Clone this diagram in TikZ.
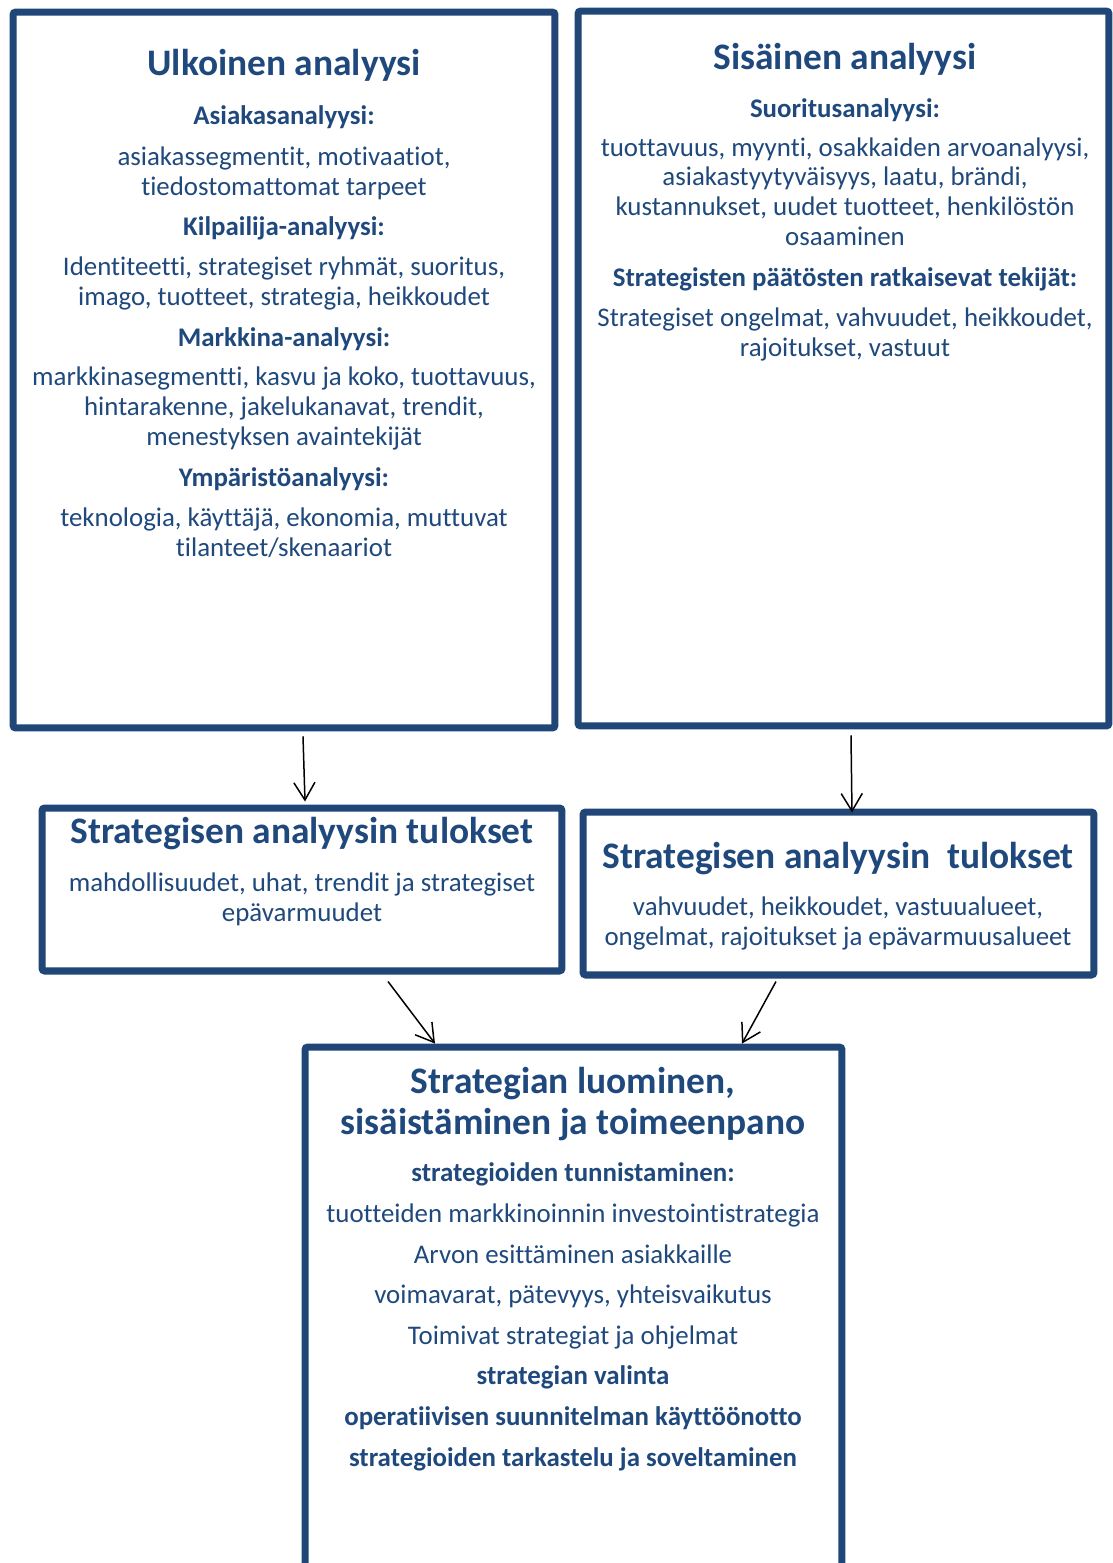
\documentclass[tikz,border=0pt]{standalone}
\usepackage{fontspec}
\setmainfont{Carlito}[Ligatures=NoCommon]
\usetikzlibrary{arrows.meta,shadows,calc}
\definecolor{boxblue}{HTML}{1F4677}
\definecolor{textblue}{HTML}{1F497D}

\begin{document}
\begin{tikzpicture}[x=0.02cm,y=-0.02cm,
    box/.style={draw=boxblue,line width=4pt,fill=white,rounded corners=1.5pt,inner sep=0pt,
      drop shadow={shadow xshift=1.2pt,shadow yshift=-1.2pt,opacity=0.3}},
    ttl/.style={anchor=base,text=textblue,align=center,
      font=\fontsize{21.3}{23.3}\selectfont\bfseries},
    sub/.style={anchor=base,text=textblue,font=\fontsize{15.3}{16.8}\selectfont\bfseries},
    txt/.style={anchor=base,text=textblue,align=center,font=\fontsize{15.3}{16.8}\selectfont},
    arr/.style={-{Straight Barb[length=10pt,width=12pt]},line width=0.85pt},]

    \useasboundingbox (0,0) rectangle (1113,1563);

    \node[box,minimum width=10.84cm,minimum height=14.32cm] (ulk) at (284,370) {};
    \node[box,minimum width=10.62cm,minimum height=14.3cm] (sis) at (843.5,368.5) {};
    \node[box,minimum width=10.4cm,minimum height=3.26cm] (tulA) at (302,889.5) {};
    \node[box,minimum width=10.22cm,minimum height=3.26cm] (tulB) at (838.5,893.5) {};
    \node[box,minimum width=10.74cm,minimum height=11.06cm] (luo) at (573.5,1323.5) {};

    \draw[arr] ($(ulk.south)+(19,5)$) -- ($(tulA.north)+(3,-3)$);
    \draw[arr] ($(sis.south)+(7.5,6)$) -- ($(tulB.north)+(13.5,4)$);
    \draw[arr] ($(tulA.south)+(86,7)$) -- ($(luo.north)+(-138.5,0)$);
    \draw[arr] ($(tulB.south)+(-62.5,3)$) -- ($(luo.north)+(168.5,0)$);

    \node[ttl] (ulkT) at (284,75) {Ulkoinen analyysi};
    \node[sub] (ulkS1) at (284,124) {Asiakasanalyysi:};
    \node[txt] (ulkB1) at (284,195) {asiakassegmentit, motivaatiot,\\ tiedostomattomat tarpeet};
    \node[sub] (ulkS2) at (284,235) {Kilpailija-analyysi:};
    \node[txt] (ulkB2) at (284,305) {Identiteetti, strategiset ryhmät, suoritus,\\ imago, tuotteet, strategia, heikkoudet};
    \node[sub] (ulkS3) at (284,346) {Markkina-analyysi:};
    \node[txt] (ulkB3) at (284,445) {markkinasegmentti, kasvu ja koko, tuottavuus,\\ hintarakenne, jakelukanavat, trendit,\\ menestyksen avaintekijät};
    \node[sub] (ulkS4) at (284,486) {Ympäristöanalyysi:};
    \node[txt] (ulkB4) at (284,556) {teknologia, käyttäjä, ekonomia, muttuvat\\ tilanteet/skenaariot};

    \node[ttl] (sisT) at (845,69) {Sisäinen analyysi};
    \node[sub] (sisS1) at (845,117) {Suoritusanalyysi:};
    \node[txt] (sisB1) at (845,245) {tuottavuus, myynti, osakkaiden arvoanalyysi,\\ asiakastyytyväisyys, laatu, brändi,\\ kustannukset, uudet tuotteet, henkilöstön\\ osaaminen};
    \node[sub] (sisS2) at (845,286) {Strategisten päätösten ratkaisevat tekijät:};
    \node[txt] (sisB2) at (845,356) {Strategiset ongelmat, vahvuudet, heikkoudet,\\ rajoitukset, vastuut};

    \node[ttl] (tulAT) at (302,843) {Strategisen analyysin tulokset};
    \node[txt] (tulAB) at (302,921) {mahdollisuudet, uhat, trendit ja strategiset\\ epävarmuudet};

    \node[ttl] (tulBT) at (838,868) {Strategisen analyysin\ \ tulokset};
    \node[txt] (tulBB) at (838,945) {vahvuudet, heikkoudet, vastuualueet,\\ ongelmat, rajoitukset ja epävarmuusalueet};

    \node[ttl] (luoT) at (573,1134) {Strategian luominen,\\ sisäistäminen ja toimeenpano};
    \node[txt,font=\fontsize{15.3}{23.1}\selectfont] (luoB) at (573,1466)
    {\textbf{strategioiden tunnistaminen:}\\
      tuotteiden markkinoinnin investointistrategia\\
      Arvon esittäminen asiakkaille\\
      voimavarat, pätevyys, yhteisvaikutus\\
      Toimivat strategiat ja ohjelmat\\
      \textbf{strategian valinta}\\
      \textbf{operatiivisen suunnitelman käyttöönotto}\\
      \textbf{strategioiden tarkastelu ja soveltaminen}};

  \end{tikzpicture}
\end{document}
